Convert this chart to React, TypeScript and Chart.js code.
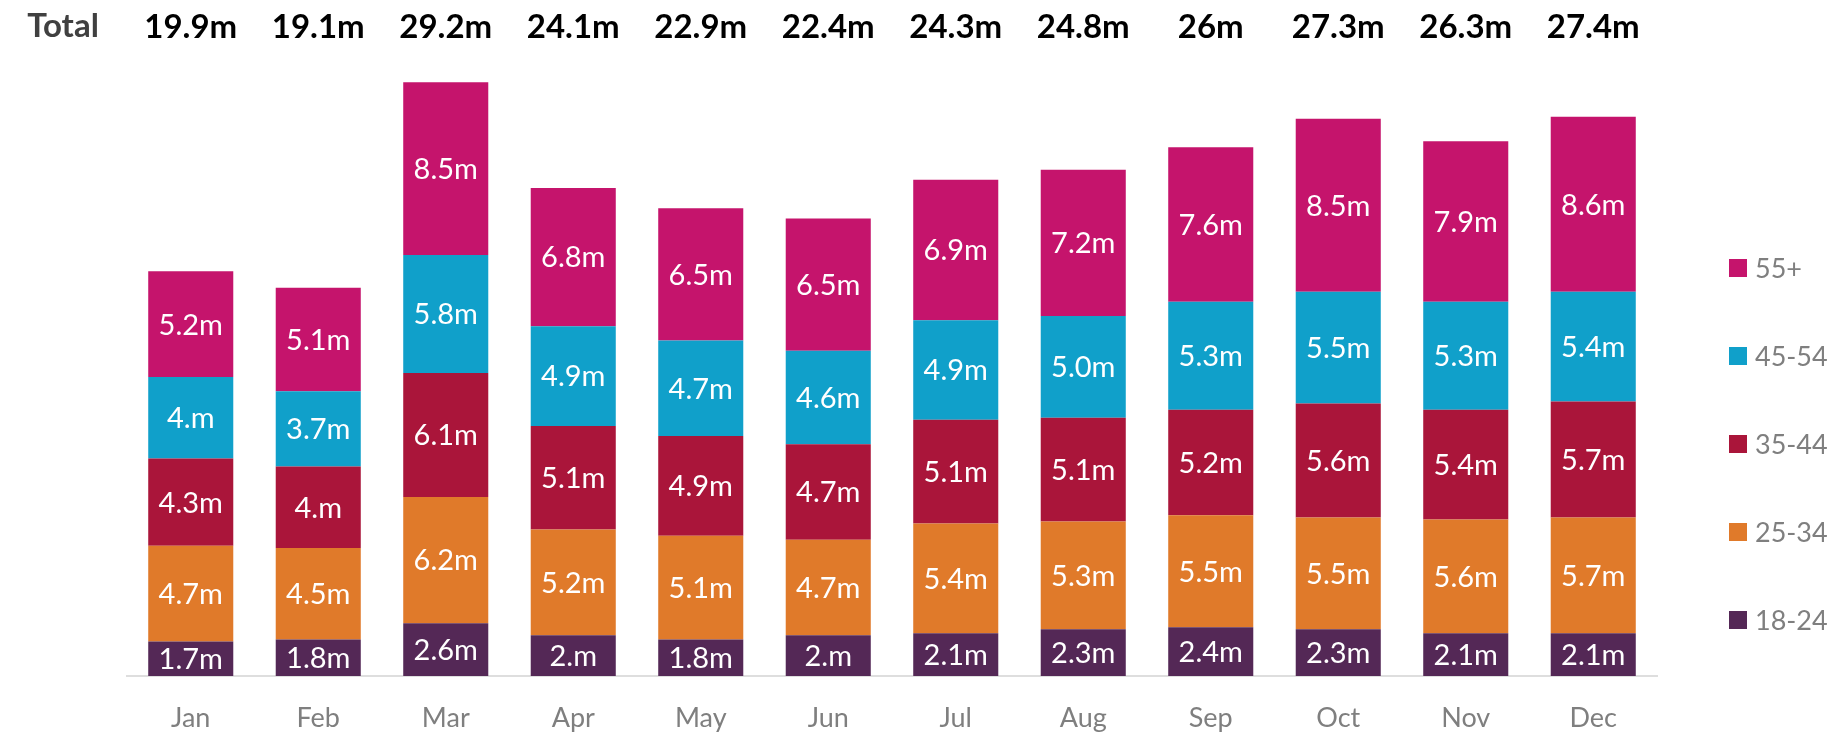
import React, { useEffect, useRef } from "react";
import { Chart, registerables } from "chart.js";

Chart.register(...registerables);

const months = ["Jan", "Feb", "Mar", "Apr", "May", "Jun", "Jul", "Aug", "Sep", "Oct", "Nov", "Dec"];

const age1824 = [1.7, 1.8, 2.6, 2.0, 1.8, 2.0, 2.1, 2.3, 2.4, 2.3, 2.1, 2.1];
const age2534 = [4.7, 4.5, 6.2, 5.2, 5.1, 4.7, 5.4, 5.3, 5.5, 5.5, 5.6, 5.7];
const age3544 = [4.3, 4.0, 6.1, 5.1, 4.9, 4.7, 5.1, 5.1, 5.2, 5.6, 5.4, 5.7];
const age4554 = [4.0, 3.7, 5.8, 4.9, 4.7, 4.6, 4.9, 5.0, 5.3, 5.5, 5.3, 5.4];
const age55p = [5.2, 5.1, 8.5, 6.8, 6.5, 6.5, 6.9, 7.2, 7.6, 8.5, 7.9, 8.6];

const label1824 = ["1.7m", "1.8m", "2.6m", "2.m", "1.8m", "2.m", "2.1m", "2.3m", "2.4m", "2.3m", "2.1m", "2.1m"];
const label2534 = ["4.7m", "4.5m", "6.2m", "5.2m", "5.1m", "4.7m", "5.4m", "5.3m", "5.5m", "5.5m", "5.6m", "5.7m"];
const label3544 = ["4.3m", "4.m", "6.1m", "5.1m", "4.9m", "4.7m", "5.1m", "5.1m", "5.2m", "5.6m", "5.4m", "5.7m"];
const label4554 = ["4.m", "3.7m", "5.8m", "4.9m", "4.7m", "4.6m", "4.9m", "5.0m", "5.3m", "5.5m", "5.3m", "5.4m"];
const label55p = ["5.2m", "5.1m", "8.5m", "6.8m", "6.5m", "6.5m", "6.9m", "7.2m", "7.6m", "8.5m", "7.9m", "8.6m"];

const totalLabels = ["19.9m", "19.1m", "29.2m", "24.1m", "22.9m", "22.4m", "24.3m", "24.8m", "26m", "27.3m", "26.3m", "27.4m"];

const seriesNames = ["18-24", "25-34", "35-44", "45-54", "55+"];
const seriesColors = ["#542856", "#E07A2A", "#AA153A", "#10A0CA", "#C5146C"];

const FONT = "Lato, 'Open Sans', sans-serif";

const labelsPlugin = {
  id: "segLabels",
  afterDatasetsDraw(chart: any) {
    const ctx = chart.ctx;
    ctx.save();
    ctx.font = `29px ${FONT}`;
    ctx.fillStyle = "#ffffff";
    ctx.textAlign = "center";
    ctx.textBaseline = "middle";
    chart.data.datasets.forEach((ds: any, di: number) => {
      const meta = chart.getDatasetMeta(di);
      meta.data.forEach((bar: any, i: number) => {
        const y = (bar.y + bar.base) / 2;
        ctx.fillText(ds.segLabels[i], bar.x, y + 1);
      });
    });
    ctx.restore();
  },
};

const totalsPlugin = {
  id: "totals",
  afterDraw(chart: any) {
    const ctx = chart.ctx;
    const xs = chart.scales.x;
    ctx.save();
    ctx.textAlign = "center";
    ctx.textBaseline = "middle";
    ctx.font = `bold 33px ${FONT}`;
    ctx.fillStyle = "#000000";
    totalLabels.forEach((t, i) => {
      ctx.fillText(t, xs.getPixelForValue(i), 27);
    });
    ctx.fillStyle = "#404040";
    ctx.fillText("Total", 63, 26);
    ctx.restore();
  },
};

const legendPlugin = {
  id: "sideLegend",
  afterDraw(chart: any) {
    const ctx = chart.ctx;
    ctx.save();
    ctx.font = `27px ${FONT}`;
    ctx.textBaseline = "middle";
    ctx.textAlign = "left";
    const n = chart.data.datasets.length;
    for (let k = 0; k < n; k++) {
      const di = n - 1 - k;
      const ds = chart.data.datasets[di];
      const cy = 268 + k * 88;
      ctx.fillStyle = ds.backgroundColor;
      ctx.fillRect(1729, cy - 9, 18, 18);
      ctx.fillStyle = "#7f7f7f";
      ctx.fillText(ds.label, 1755, cy + 1);
    }
    ctx.restore();
  },
};

export default function App() {
  const ref = useRef<HTMLCanvasElement>(null);
  useEffect(() => {
    if (!ref.current) return;
    const values = [age1824, age2534, age3544, age4554, age55p];
    const segLabels = [label1824, label2534, label3544, label4554, label55p];
    const chart = new Chart(ref.current, {
      type: "bar",
      data: {
        labels: months,
        datasets: values.map((v, i) => ({
          label: seriesNames[i],
          data: v,
          backgroundColor: seriesColors[i],
          borderWidth: 0,
          barPercentage: 0.667,
          categoryPercentage: 1,
          segLabels: segLabels[i],
        })) as any,
      },
      options: {
        responsive: false,
        animation: false,
        devicePixelRatio: 1,
        layout: { padding: { top: 66, left: 127, right: 178, bottom: 0 } },
        plugins: { legend: { display: false }, tooltip: { enabled: false } },
        scales: {
          x: {
            stacked: true,
            grid: { display: false, drawTicks: false },
            border: { display: true, color: "#dedede", width: 2 },
            ticks: { color: "#7f7f7f", font: { family: FONT, size: 27 }, padding: 26 },
            afterFit: (scale: any) => {
              scale.height = 59;
            },
          },
          y: { stacked: true, display: false, min: 0, max: 30 },
        },
      },
      plugins: [labelsPlugin, totalsPlugin, legendPlugin],
    });
    return () => chart.destroy();
  }, []);
  return (
    <div style={{ position: "absolute", left: 0, top: 0, width: 1835, height: 735, background: "#fff" }}>
      <canvas ref={ref} width={1835} height={735} style={{ display: "block" }} />
    </div>
  );
}
